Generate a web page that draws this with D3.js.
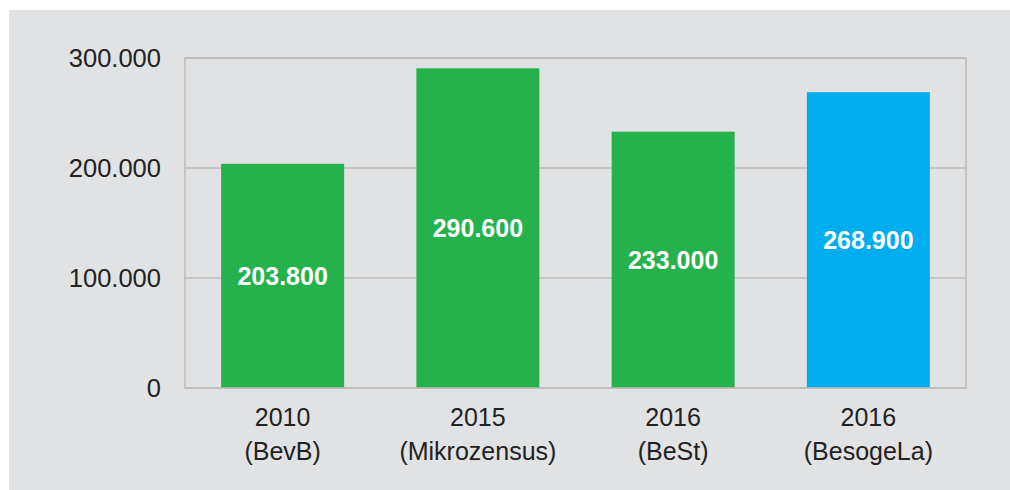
<!DOCTYPE html>
<html>
<head>
<meta charset="utf-8">
<script src="https://cdn.jsdelivr.net/npm/d3@7"></script>
<style>
  body { margin: 0; background: #fff; }
  svg { display: block; font-family: "Liberation Sans", Arial, sans-serif; }
</style>
</head>
<body>
<div class="canvas"></div>
<script>
const years = ["2010", "2015", "2016", "2016"];
const sources = ["(BevB)", "(Mikrozensus)", "(BeSt)", "(BesogeLa)"];
const values = [203800, 290600, 233000, 268900];
const barColors = ["#25b24c", "#25b24c", "#25b24c", "#00aeef"];
const yTicks = [0, 100000, 200000, 300000];

const width = 1010;
const height = 490;
const margin = { top: 58, right: 44, bottom: 102, left: 185 };
const graphWidth = width - margin.left - margin.right;
const graphHeight = height - margin.top - margin.bottom;

const fmt = (d) => d3.format(",")(d).replace(/,/g, ".");

const svg = d3
  .select(".canvas")
  .append("svg")
  .attr("width", width)
  .attr("height", height);

//grey background panel
svg
  .append("rect")
  .attr("x", 9)
  .attr("y", 10)
  .attr("width", width - 9)
  .attr("height", height - 10)
  .attr("fill", "#e1e2e4");

const graph = svg
  .append("g")
  .attr("transform", `translate(${margin.left},${margin.top})`);

//scales
const x = d3
  .scaleBand()
  .domain(d3.range(values.length))
  .range([0, graphWidth])
  .paddingInner(0.37)
  .paddingOuter(0.185);
const y = d3.scaleLinear().domain([0, 300000]).range([graphHeight, 0]);

//gridlines
graph
  .append("g")
  .selectAll("line")
  .data(yTicks)
  .join("line")
  .attr("x1", 0)
  .attr("x2", graphWidth)
  .attr("y1", (d) => y(d))
  .attr("y2", (d) => y(d))
  .attr("stroke", "#bcbcbc")
  .attr("stroke-width", 1.5);

//bars
graph
  .selectAll("rect.bar")
  .data(values)
  .join("rect")
  .attr("class", "bar")
  .attr("x", (d, i) => x(i))
  .attr("y", (d) => y(d))
  .attr("width", x.bandwidth())
  .attr("height", (d) => graphHeight - y(d))
  .attr("fill", (d, i) => barColors[i]);

//frame
graph
  .append("rect")
  .attr("width", graphWidth)
  .attr("height", graphHeight)
  .attr("fill", "none")
  .attr("stroke", "#bcbcbc")
  .attr("stroke-width", 1.5);

//value labels inside bars
graph
  .selectAll("text.val")
  .data(values)
  .join("text")
  .attr("class", "val")
  .attr("x", (d, i) => x(i) + x.bandwidth() / 2)
  .attr("y", (d) => (y(d) + graphHeight) / 2)
  .attr("dy", "0.36em")
  .attr("text-anchor", "middle")
  .attr("fill", "#fff")
  .attr("font-weight", "bold")
  .attr("font-size", 25)
  .text((d) => fmt(d));

//y axis labels
const yAxis = d3
  .axisLeft(y)
  .tickValues(yTicks)
  .tickSize(0)
  .tickPadding(24)
  .tickFormat(fmt);
const yAxisGroup = graph.append("g").call(yAxis);
yAxisGroup.select(".domain").remove();
yAxisGroup
  .selectAll("text")
  .attr("font-size", 25.5)
  .attr("font-family", "Liberation Sans, Arial, sans-serif")
  .attr("fill", "#222");

//x axis labels (two lines)
const xLabels = graph
  .append("g")
  .selectAll("text")
  .data(values)
  .join("text")
  .attr("text-anchor", "middle")
  .attr("font-size", 25)
  .attr("fill", "#222")
  .attr("transform", (d, i) => `translate(${x(i) + x.bandwidth() / 2},${graphHeight})`);
xLabels
  .append("tspan")
  .attr("x", 0)
  .attr("y", 38)
  .text((d, i) => years[i]);
xLabels
  .append("tspan")
  .attr("x", 0)
  .attr("y", 72)
  .text((d, i) => sources[i]);
</script>
</body>
</html>
